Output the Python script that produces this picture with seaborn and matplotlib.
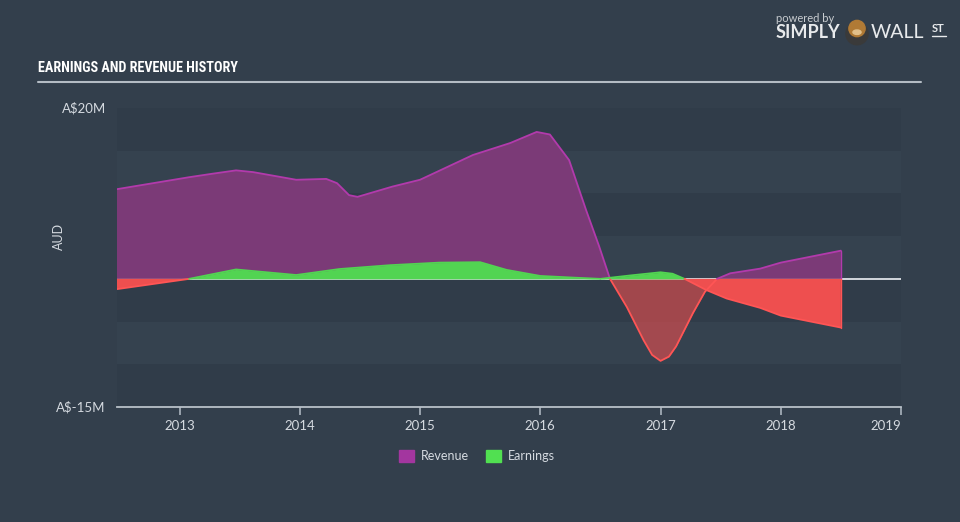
import numpy as np
import pandas as pd
import matplotlib
matplotlib.use("Agg")
import matplotlib.pyplot as plt
import matplotlib.patches as mpatches
from matplotlib import font_manager
import seaborn as sns

# ---------------- data ----------------
rev_years = [2012.48, 2013.08, 2013.27, 2013.47, 2013.61, 2013.97, 2014.22, 2014.31,
             2014.41, 2014.48, 2014.77, 2015.0, 2015.44, 2015.75, 2015.97, 2016.08,
             2016.24, 2016.38, 2016.49, 2016.58, 2016.72, 2016.86, 2016.93, 2017.0,
             2017.07, 2017.13, 2017.27, 2017.37, 2017.47, 2017.58, 2017.83, 2018.0, 2018.5]
revenue = [10.5, 11.9, 12.3, 12.7, 12.5, 11.6, 11.7, 11.2,
           9.8, 9.6, 10.8, 11.6, 14.5, 15.9, 17.2, 16.9,
           13.9, 8.1, 3.8, 0.0, -3.3, -7.2, -8.9, -9.6,
           -9.1, -7.9, -4.0, -1.5, 0.0, 0.65, 1.2, 1.9, 3.3]

earn_years = [2012.48, 2013.08, 2013.47, 2013.97, 2014.33, 2014.75, 2015.16, 2015.5,
              2015.72, 2016.0, 2016.27, 2016.5, 2016.75, 2017.0, 2017.1, 2017.2,
              2017.38, 2017.55, 2017.83, 2018.0, 2018.5]
earnings = [-1.2, 0.0, 1.1, 0.45, 1.15, 1.6, 1.9, 1.95,
            1.05, 0.34, 0.15, 0.0, 0.4, 0.77, 0.6, 0.0,
            -1.3, -2.3, -3.4, -4.3, -5.7]

x_ticks = [2013, 2014, 2015, 2016, 2017, 2018, 2019]
y_tick_vals = [20, -15]
y_tick_labels = ["A$20M", "A$-15M"]
legend_labels = ["Revenue", "Earnings"]

# ---------------- style ----------------
BG = "#333f4c"
AX_BG = "#35424f"
BAND = "#303c49"
TXT = "#d5dae0"
PURPLE_FILL = "#7b3a77"
PURPLE_LINE = "#b23aac"
RED = "#ee4f4f"
RED_LINE = "#ff5555"
GREEN = "#52d452"

sns.set_style("dark")
plt.rcParams["font.family"] = ["Lato", "DejaVu Sans"]

available = {f.name for f in font_manager.fontManager.ttflist}
title_family = "DejaVu Sans"
for cand in ["Liberation Sans Narrow", "DejaVu Sans Condensed", "Roboto Condensed",
             "Open Sans Condensed", "Roboto", "Liberation Sans"]:
    if cand in available:
        title_family = cand
        break

fig = plt.figure(figsize=(9.6, 5.22), dpi=100, facecolor=BG)
ax = fig.add_axes([117 / 960, 1 - 407 / 522, (901 - 117) / 960, (407 - 108) / 522])
ax.set_facecolor(AX_BG)

# bands
for lo in [15, 5, -5, -15]:
    ax.axhspan(lo, lo + 5, color=BAND, zorder=0, lw=0)

ax.axhline(0, color="#dfe3e8", lw=1.3, zorder=1)

rx = np.array(rev_years)
ry = np.array(revenue)
ex = np.array(earn_years)
ey = np.array(earnings)

# revenue fills
ax.fill_between(rx, 0, ry, where=ry >= 0, interpolate=True, color=PURPLE_FILL, lw=0, zorder=2)
ax.fill_between(rx, 0, ry, where=ry <= 0, interpolate=True, color=RED, alpha=0.6, lw=0, zorder=2)

# earnings fills
ax.fill_between(ex, 0, ey, where=ey >= 0, interpolate=True, color=GREEN, lw=0, zorder=3)
ax.fill_between(ex, 0, ey, where=ey <= 0, interpolate=True, color=RED, lw=0, zorder=3)


def draw_segments(xs, ys, pos_color, neg_color, z):
    seg_x, seg_y = [xs[0]], [ys[0]]
    sign = ys[0] >= 0 if ys[0] != 0 else ys[1] >= 0
    for i in range(1, len(xs)):
        seg_x.append(xs[i]); seg_y.append(ys[i])
        if ys[i] == 0 and i < len(xs) - 1:
            sns.lineplot(x=seg_x, y=seg_y, ax=ax, color=pos_color if sign else neg_color,
                         lw=1.3, zorder=z, estimator=None, sort=False)
            seg_x, seg_y = [xs[i]], [ys[i]]
            sign = ys[i + 1] >= 0
    if len(seg_x) > 1:
        sns.lineplot(x=seg_x, y=seg_y, ax=ax, color=pos_color if sign else neg_color,
                     lw=1.3, zorder=z, estimator=None, sort=False)


draw_segments(rx, ry, PURPLE_LINE, RED_LINE, 4)
draw_segments(ex, ey, GREEN, RED_LINE, 5)

ax.plot([rx[-1], rx[-1]], [0, ry[-1]], color=PURPLE_LINE, lw=1.0, zorder=4)
ax.plot([ex[-1], ex[-1]], [0, ey[-1]], color=RED_LINE, lw=1.0, zorder=5)

ax.set_xlim(2012.48, 2019.0)
ax.set_ylim(-15, 20)
ax.set_xticks(x_ticks)
ax.set_xticklabels([str(t) for t in x_ticks])
ax.set_yticks(y_tick_vals)
ax.set_yticklabels(y_tick_labels)
ax.tick_params(axis="x", colors="#aab4be", length=6, width=1.2, direction="out",
               labelcolor=TXT, labelsize=9.5, pad=3, bottom=True)
ax.tick_params(axis="y", length=0, labelcolor=TXT, labelsize=9.5, pad=8)
for lbl in ax.get_yticklabels():
    lbl.set_verticalalignment("center")
ax.get_xticklabels()[-1].set_horizontalalignment("right")
ax.set_xlabel("")
ax.set_ylabel("AUD", color=TXT, fontsize=9, labelpad=2)
ax.yaxis.set_label_coords(-0.066, 0.57)
for s in ["top", "right", "left"]:
    ax.spines[s].set_visible(False)
ax.spines["bottom"].set_visible(True)
ax.spines["bottom"].set_color("#b8c0c8")
ax.spines["bottom"].set_linewidth(1.3)
ax.grid(False)

# title, sized to span roughly the same width as in the reference
title = fig.text(38 / 960, 1 - 68 / 522, "EARNINGS AND REVENUE HISTORY", color="white",
                 fontsize=12.5, fontweight="bold", family=[title_family, "DejaVu Sans"],
                 va="center", ha="left")
renderer = fig.canvas.get_renderer()
w = title.get_window_extent(renderer).width
if w > 0:
    title.set_fontsize(12.5 * 200 / w)
fig.add_artist(plt.Line2D([38 / 960, 921 / 960], [1 - 82 / 522, 1 - 82 / 522],
                          color="#b4bcc4", lw=1.5, transform=fig.transFigure))

# legend
handles = [mpatches.Patch(color="#a3369f"), mpatches.Patch(color="#51e051")]
fig.legend(handles, legend_labels, loc="center", bbox_to_anchor=(477 / 960, 1 - 456 / 522),
           ncol=2, frameon=False, fontsize=9, labelcolor=TXT, handlelength=1.2,
           handleheight=1.2, columnspacing=1.4, handletextpad=0.5)

# logo
fig.text(776 / 960, 1 - 18 / 522, "powered by", color="#c8ccd0", fontsize=8, va="center", ha="left")
fig.text(776 / 960, 1 - 32 / 522, "SIMPLY", color="#e8eaec", fontsize=13, fontweight="bold",
         va="center", ha="left")
fig.text(871 / 960, 1 - 32 / 522, "WALL", color="#e8eaec", fontsize=14, fontweight="normal",
         va="center", ha="left")
fig.text(932 / 960, 1 - 29 / 522, "ST", color="#e8eaec", fontsize=8, fontweight="bold",
         va="center", ha="left")
fig.add_artist(plt.Line2D([932 / 960, 946 / 960], [1 - 36 / 522, 1 - 36 / 522],
                          color="#e8eaec", lw=1.0, transform=fig.transFigure))
logo_ax = fig.add_axes([842 / 960, 1 - 47 / 522, 30 / 960, 34 / 522])
logo_ax.set_xlim(-1, 1); logo_ax.set_ylim(-1.15, 1.15); logo_ax.set_aspect("equal")
logo_ax.axis("off")
logo_ax.add_patch(mpatches.Circle((0, -0.25), 0.75, color="#3a3a3a"))
logo_ax.add_patch(mpatches.Circle((0, 0.1), 0.55, color="#b07a35"))
logo_ax.add_patch(mpatches.Ellipse((0, -0.15), 0.55, 0.3, color="#e2c08a"))

fig.savefig("out.png", dpi=100, facecolor=BG)
